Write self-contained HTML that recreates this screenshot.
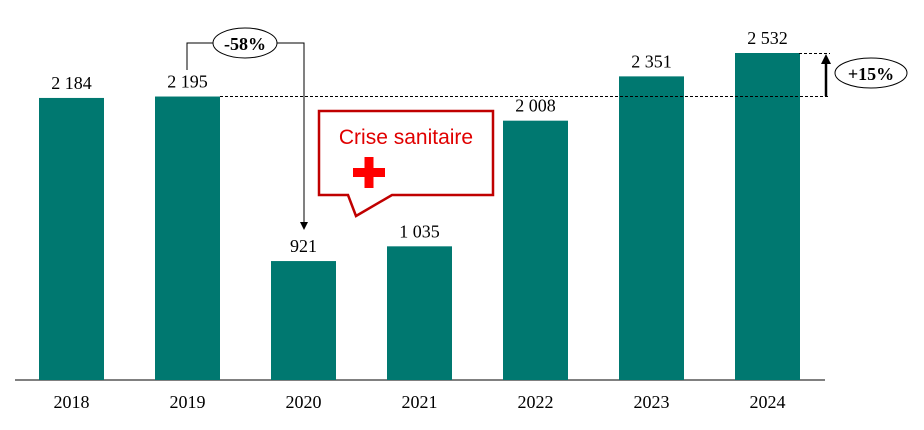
<!DOCTYPE html>
<html><head><meta charset="utf-8"><style>
body{margin:0;background:#fff}
svg{display:block;font-family:"Liberation Serif",serif}
</style></head><body>
<svg id="c" width="924" height="430">
<line x1="15" y1="380" x2="825" y2="380" stroke="#000" stroke-width="1"/>
<g id="bars"></g>
<g>
<polyline points="187,70 187,43 213,43" fill="none" stroke="#000"/>
<polyline points="277,43 304,43 304,222" fill="none" stroke="#000"/>
<polygon points="300,222 308,222 304,230" fill="#000"/>
<ellipse cx="245" cy="43" rx="32" ry="15" fill="#fff" stroke="#000"/>
<text x="245" y="50" text-anchor="middle" font-size="18" font-weight="bold">-58%</text>
</g>
<g>
<line x1="220" y1="96.5" x2="830" y2="96.5" stroke="#000" stroke-dasharray="3,2"/>
<line x1="799" y1="53.5" x2="830" y2="53.5" stroke="#000" stroke-dasharray="3,2"/>
<line x1="826" y1="96" x2="826" y2="62" stroke="#000" stroke-width="2.5"/>
<polygon points="821,64 831,64 826,54" fill="#000"/>
<ellipse cx="871" cy="73" rx="36" ry="15" fill="#fff" stroke="#000"/>
<text x="871" y="80" text-anchor="middle" font-size="18" font-weight="bold">+15%</text>
</g>
<g>
<path d="M319,111 H493 V195 H392 L356,216 L348,195 H319 Z" fill="#fff" stroke="#c00000" stroke-width="2.5"/>
<text x="406" y="144" text-anchor="middle" font-size="21" fill="#e00000" font-family="Liberation Sans,sans-serif">Crise sanitaire</text>
<rect x="353" y="168" width="32" height="9" fill="#f00"/>
<rect x="364.5" y="157" width="9" height="31" fill="#f00"/>
</g>
</svg>
<script>
const years=["2018","2019","2020","2021","2022","2023","2024"];
const values=[2184,2195,921,1035,2008,2351,2532];
const labels=["2 184","2 195","921","1 035","2 008","2 351","2 532"];
const base=380,scale=(380-53)/2532;
const y=v=>base-v*scale;
const xc=i=>71.5+i*116;
const g=document.getElementById('bars'),NS="http://www.w3.org/2000/svg";
years.forEach((yr,i)=>{
 const r=document.createElementNS(NS,'rect');
 r.setAttribute('x',xc(i)-32.5);r.setAttribute('width',65);
 r.setAttribute('y',y(values[i]));r.setAttribute('height',base-y(values[i]));
 r.setAttribute('fill','#007870');
 
 
 g.appendChild(r);
 const t=document.createElementNS(NS,'text');
 t.setAttribute('x',xc(i));t.setAttribute('y',y(values[i])-9);
 t.setAttribute('text-anchor','middle');t.setAttribute('font-size','18');
 t.textContent=labels[i];
 
 
 g.appendChild(t);
 const l=document.createElementNS(NS,'text');
 l.setAttribute('x',xc(i));l.setAttribute('y',408);
 l.setAttribute('text-anchor','middle');l.setAttribute('font-size','18');
 l.textContent=yr;
 
 
 g.appendChild(l);
});
</script>
</body></html>
